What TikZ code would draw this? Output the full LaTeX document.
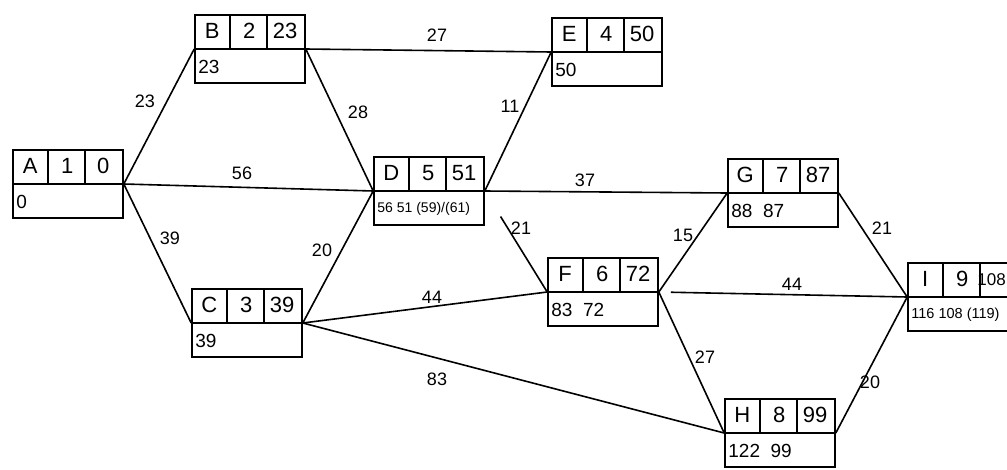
\documentclass[tikz,border=0pt]{standalone}
\usepackage{fontspec}
\setmainfont{Liberation Sans}
\begin{document}
\begin{tikzpicture}[x=1pt,y=-1pt,
  actbox/.style={draw,line width=1.6pt,minimum width=110pt,minimum height=68pt,inner sep=0pt},
  edge/.style={line width=1.6pt},
  hd/.style={font=\fontsize{22}{22}\selectfont,inner sep=0pt},
  bt/.style={font=\fontsize{19}{19}\selectfont,inner sep=0pt,anchor=west},
  lbl/.style={font=\fontsize{18}{18}\selectfont,inner sep=1pt}]
\useasboundingbox (0,0) rectangle (1007,469);
\clip (0,0) rectangle (1007,469);
\newcommand{\actbox}[7]{%
  \node[actbox] (#1) at (#2,#3) {};
  \draw[line width=1.6pt] (#1.west) -- (#1.east);
  \draw[line width=1.6pt] (#1.north west) ++(36,0) -- ++(0,34);
  \draw[line width=1.6pt] (#1.north west) ++(73,0) -- ++(0,34);
  \node[hd] (#1-n) at ([shift={(18,17)}]#1.north west) {#4};
  \node[hd] (#1-d) at ([shift={(55,17)}]#1.north west) {#5};
  \node[hd] (#1-e) at ([shift={(91,17)}]#1.north west) {#6};
  \node[bt] (#1-b) at ([shift={(4,-17)}]#1.south west) {#7};
}
\actbox{A}{68}{184}{A}{1}{0}{0}
\actbox{B}{250}{49}{B}{2}{23}{23}
\actbox{E}{607}{52}{E}{4}{50}{50}
\actbox{D}{429}{191}{D}{5}{51}{\fontsize{14}{14}\selectfont 56 51 (59)/(61)}
\actbox{G}{783}{193}{G}{7}{87}{88 \ 87}
\actbox{I}{963}{297}{I}{9}{}{\fontsize{14.5}{14.5}\selectfont 116 108 (119)}
\node[hd,anchor=east,font=\fontsize{17}{17}\selectfont] (I-es) at (1006,280) {108};
\actbox{C}{247}{323}{C}{3}{39}{39}
\actbox{F}{603}{292}{F}{6}{72}{83 \ 72}
\actbox{H}{780}{433}{H}{8}{99}{122 \ 99}
% connectors
\draw[edge] (A.east) -- (B.west);
\draw[edge] (A.east) -- (D.west);
\draw[edge] (A.east) -- (C.west);
\draw[edge] (B.east) -- (E.west);
\draw[edge] (B.east) -- (D.west);
\draw[edge] (C.east) -- (D.west);
\draw[edge] (D.east) -- (E.west);
\draw[edge] (D.east) -- (G.west);
\draw[edge,shorten <=30pt] (D.east) -- (F.west);
\draw[edge] (C.east) -- (F.west);
\draw[edge] (C.east) -- (H.west);
\draw[edge] (F.east) -- (G.west);
\draw[edge,shorten <=12pt] (F.east) -- (I.west);
\draw[edge] (F.east) -- (H.west);
\draw[edge] (G.east) -- (I.west);
\draw[edge] (H.east) -- (I.west);
% labels
\node[lbl] (lAB) at (145,101) {23};
\node[lbl] (lAD) at (242,173) {56};
\node[lbl] (lAC) at (170,238) {39};
\node[lbl] (lBE) at (437,35) {27};
\node[lbl] (lBD) at (358,112) {28};
\node[lbl] (lCD) at (322,250) {20};
\node[lbl] (lDE) at (510,106) {11};
\node[lbl] (lDG) at (585,180) {37};
\node[lbl] (lDF) at (521,228) {21};
\node[lbl] (lCF) at (432,297) {44};
\node[lbl] (lCH) at (437,379) {83};
\node[lbl] (lFG) at (683,235) {15};
\node[lbl] (lGI) at (882,228) {21};
\node[lbl] (lFI) at (792,284) {44};
\node[lbl] (lFH) at (705,357) {27};
\node[lbl] (lHI) at (870,382) {20};
\end{tikzpicture}
\end{document}
